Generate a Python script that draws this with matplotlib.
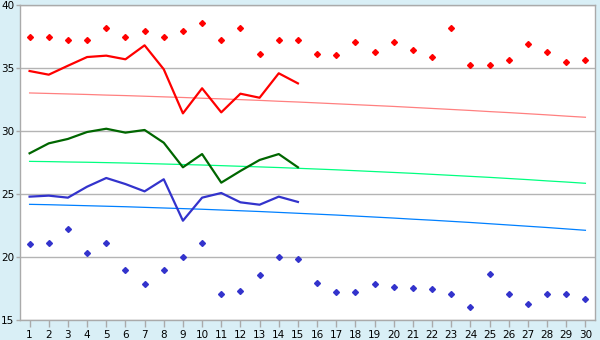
import matplotlib
matplotlib.use("Agg")
from matplotlib import pyplot as plt

# days along x
days = list(range(1, 31))
days_15 = days[:15]

# upper series (red)
red_points = [37.5, 37.5, 37.2, 37.2, 38.15, 37.5, 37.9, 37.5, 37.9, 38.6,
              37.2, 38.2, 36.1, 37.2, 37.2, 36.1, 36.0, 37.05, 36.3, 37.05,
              36.4, 35.9, 38.15, 35.2, 35.2, 35.6, 36.9, 36.25, 35.45, 35.6]
red_line = [34.76, 34.47, 35.18, 35.87, 35.98, 35.69, 36.8, 34.9, 31.4, 33.39,
            31.48, 32.96, 32.64, 34.58, 33.78]
red_trend = [33.02, 32.98, 32.94, 32.90, 32.85, 32.81, 32.76, 32.71, 32.66, 32.60,
             32.55, 32.49, 32.43, 32.36, 32.30, 32.23, 32.16, 32.09, 32.02, 31.95,
             31.87, 31.79, 31.71, 31.63, 31.54, 31.46, 31.37, 31.28, 31.18, 31.09]

# middle series (green)
green_line = [28.23, 29.02, 29.37, 29.92, 30.18, 29.87, 30.08, 29.07, 27.12, 28.17,
              25.9, 26.83, 27.7, 28.17, 27.12]
green_trend = [27.59, 27.57, 27.54, 27.52, 27.49, 27.46, 27.42, 27.38, 27.34, 27.30,
               27.25, 27.20, 27.15, 27.10, 27.04, 26.98, 26.92, 26.85, 26.78, 26.71,
               26.64, 26.56, 26.48, 26.40, 26.32, 26.23, 26.14, 26.04, 25.95, 25.85]

# lower series (blue)
blue_points = [21.0, 21.09, 22.2, 20.29, 21.09, 18.94, 17.83, 18.94, 19.98, 21.09,
               17.04, 17.28, 18.55, 19.98, 19.82, 17.91, 17.2, 17.2, 17.83, 17.6,
               17.52, 17.44, 17.04, 16.0, 18.63, 17.04, 16.25, 17.04, 17.04, 16.64]
blue_line = [24.79, 24.87, 24.71, 25.58, 26.27, 25.79, 25.21, 26.17, 22.88, 24.71,
             25.08, 24.34, 24.15, 24.79, 24.37]
blue_trend = [24.18, 24.15, 24.11, 24.07, 24.03, 23.99, 23.94, 23.89, 23.84, 23.79,
              23.73, 23.67, 23.61, 23.54, 23.47, 23.40, 23.33, 23.25, 23.17, 23.09,
              23.00, 22.92, 22.83, 22.74, 22.64, 22.54, 22.44, 22.34, 22.23, 22.12]

y_ticks = [15, 20, 25, 30, 35, 40]

fig = plt.figure(figsize=(6, 3.4), dpi=100)
fig.patch.set_facecolor("#d9eff6")
ax = fig.add_axes([20 / 600, 20 / 340, 575 / 600, 315 / 340])
ax.set_facecolor("white")

# grid
for v in y_ticks:
    ax.axhline(v, color="#b4b4b4", lw=1.0, zorder=1)

# trend lines
ax.plot(days, red_trend, color="#ff8080", lw=0.9, zorder=2)
ax.plot(days, green_trend, color="#00ff80", lw=0.9, zorder=2)
ax.plot(days, blue_trend, color="#0080ff", lw=0.9, zorder=2)

# main lines
ax.plot(days_15, red_line, color="#ff0000", lw=1.6, zorder=3)
ax.plot(days_15, green_line, color="#006600", lw=1.6, zorder=3)
ax.plot(days_15, blue_line, color="#3333cc", lw=1.6, zorder=3)

# scatter points
ax.plot(days, red_points, ls="none", marker="D", ms=3.0, color="#ff0000",
        mec="#ff0000", zorder=4)
ax.plot(days, blue_points, ls="none", marker="D", ms=3.0, color="#3333cc",
        mec="#3333cc", zorder=4)

ax.set_xlim(0.5, 30.5)
ax.set_ylim(15, 40)
ax.set_xticks(days)
ax.set_yticks(y_ticks)

for s in ax.spines.values():
    s.set_color("#aaaaaa")
    s.set_linewidth(1.0)

ax.tick_params(axis="x", length=5, width=1, color="#aaaaaa", pad=2,
               labelsize=7.5, labelcolor="black")
ax.tick_params(axis="y", length=3, width=1, color="#aaaaaa", pad=1,
               labelsize=7.5, labelcolor="black")

fig.savefig("out.png", dpi=100, facecolor=fig.get_facecolor())
plt.close()
